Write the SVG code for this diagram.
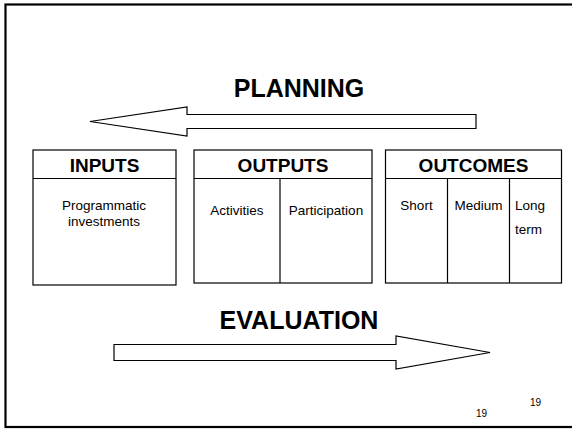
<svg xmlns="http://www.w3.org/2000/svg" width="572" height="429" viewBox="0 0 572 429">
<style>
.box{fill:#fff;stroke:#000;stroke-width:1.2}
.div{stroke:#000;stroke-width:1.2}
.arrow{fill:#fff;stroke:#000;stroke-width:1.2;stroke-linejoin:miter}
.hd{font-family:"Liberation Sans",Arial,sans-serif;font-weight:bold;font-size:19px;text-anchor:middle;fill:#000}
.big{font-family:"Liberation Sans",Arial,sans-serif;font-weight:bold;font-size:25px;text-anchor:middle;fill:#000}
.tx{font-family:"Liberation Sans",Arial,sans-serif;font-size:13.5px;text-anchor:middle;fill:#000}
.txl{font-family:"Liberation Sans",Arial,sans-serif;font-size:13.5px;fill:#000}
.num{font-family:"Liberation Sans",Arial,sans-serif;font-size:10px;fill:#000}
</style>
<rect x="0" y="0" width="572" height="429" fill="#fff"/>
<rect x="5.5" y="4.5" width="600" height="422.5" fill="none" stroke="#000" stroke-width="2.2"/>
<text class="big" x="299" y="97">PLANNING</text>
<text class="big" x="299" y="329">EVALUATION</text>
<g id="connectors">
<polygon id="planning-arrow" class="arrow" points="90,121.5 187,107 187,114.5 476,114.5 476,128.5 187,128.5 187,136"/>
<polygon id="evaluation-arrow" class="arrow" points="114,344.5 396,344.5 396,336 490,352.5 396,369 396,360.5 114,360.5"/>
</g>
<g id="inputs">
<rect class="box" x="33" y="150" width="143" height="135"/>
<line class="div" x1="33" y1="178.5" x2="176" y2="178.5"/>
<text class="hd" x="104.5" y="171.5">INPUTS</text>
<text class="tx" x="104" y="210">Programmatic</text>
<text class="tx" x="104" y="226">investments</text>
</g>
<g id="outputs">
<rect class="box" x="194" y="150" width="178" height="133"/>
<line class="div" x1="194" y1="178.5" x2="372" y2="178.5"/>
<line class="div" x1="280" y1="178.5" x2="280" y2="283"/>
<text class="hd" x="283" y="171.5">OUTPUTS</text>
<text class="tx" x="237" y="215">Activities</text>
<text class="tx" x="326" y="215">Participation</text>
</g>
<g id="outcomes">
<rect class="box" x="385.5" y="150" width="176" height="133"/>
<line class="div" x1="385.5" y1="178.5" x2="561.5" y2="178.5"/>
<line class="div" x1="447.5" y1="178.5" x2="447.5" y2="283"/>
<line class="div" x1="509.5" y1="178.5" x2="509.5" y2="283"/>
<text class="hd" x="473.5" y="171.5">OUTCOMES</text>
<text class="tx" x="416.5" y="210">Short</text>
<text class="tx" x="478.5" y="210">Medium</text>
<text class="txl" x="515" y="210">Long</text>
<text class="txl" x="515" y="234">term</text>
</g>
<text class="num" x="530" y="405.5">19</text>
<text class="num" x="476" y="416.5">19</text>
</svg>
